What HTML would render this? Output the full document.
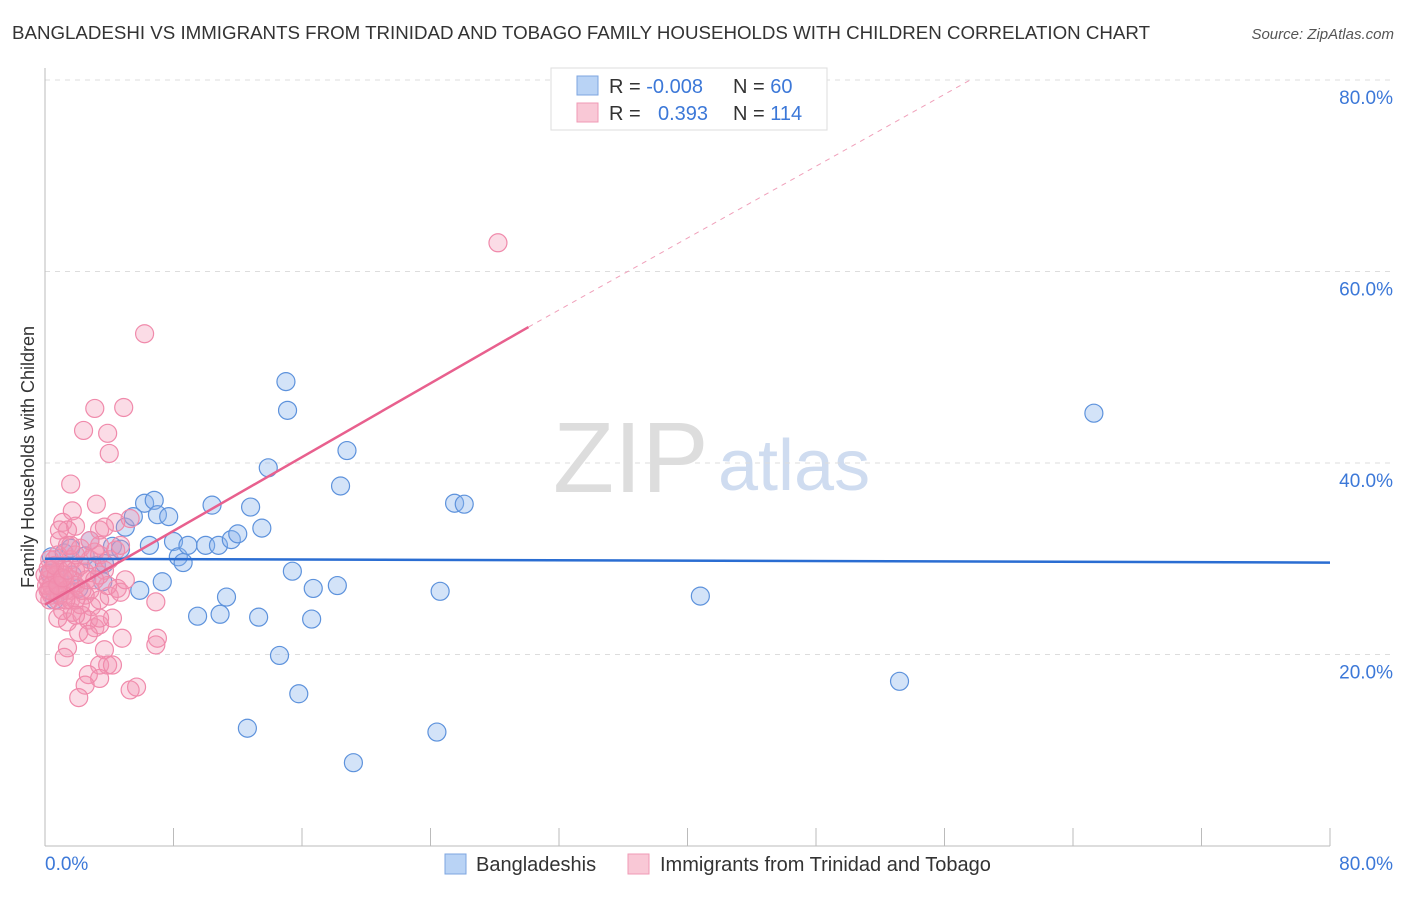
<!DOCTYPE html>
<html><head><meta charset="utf-8"><style>
body{margin:0;background:#fff;font-family:"Liberation Sans",sans-serif;}
svg text{font-family:"Liberation Sans",sans-serif;}
</style></head><body>
<svg id="chart" width="1406" height="892">
<text x="12" y="39" font-size="18" fill="#333" textLength="1138" lengthAdjust="spacingAndGlyphs">BANGLADESHI VS IMMIGRANTS FROM TRINIDAD AND TOBAGO FAMILY HOUSEHOLDS WITH CHILDREN CORRELATION CHART</text>
<text x="1394" y="39" font-size="15" fill="#555" text-anchor="end" font-style="italic">Source: ZipAtlas.com</text>
<text x="553" y="492" font-size="100" fill="#ddd" font-family="Liberation Serif">ZIP</text>
<text x="718" y="490" font-size="72" fill="#cfdcf0">atlas</text>
<g id="grid"></g><g id="axes"></g><g id="pts"></g><g id="trend"></g>
<text transform="translate(34,457) rotate(-90)" font-size="18" fill="#333" text-anchor="middle">Family Households with Children</text>
<g>
<rect x="551" y="68" width="276" height="62" fill="#fff" stroke="#ddd"/>
<rect x="577" y="76" width="21" height="19" fill="#b9d3f5" stroke="#7da6e0"/>
<rect x="577" y="103" width="21" height="19" fill="#f9c8d6" stroke="#f09ab5"/>
<text x="609" y="93" font-size="20" fill="#333">R = <tspan fill="#3c78d8">-0.008</tspan></text>
<text x="733" y="93" font-size="20" fill="#333">N = <tspan fill="#3c78d8"> 60</tspan></text>
<text x="609" y="120" font-size="20" fill="#333">R = </text>
<text x="658" y="120" font-size="20" fill="#3c78d8">0.393</text>
<text x="733" y="120" font-size="20" fill="#333">N = <tspan fill="#3c78d8">114</tspan></text>
</g>
<g>
<rect x="445" y="854" width="21" height="20" fill="#b9d3f5" stroke="#7da6e0"/>
<text x="476" y="871" font-size="20" fill="#333">Bangladeshis</text>
<rect x="628" y="854" width="21" height="20" fill="#f9c8d6" stroke="#f09ab5"/>
<text x="660" y="871" font-size="20" fill="#333">Immigrants from Trinidad and Tobago</text>
</g>
</svg>
<script>
const xTicks=[0,8,16,24,32,40,48,56,64,72,80];
const yTicks=[20,40,60,80];
const blueX=[0.4,0.8,1.2,1.6,2.1,2.5,2.8,3.2,3.6,3.7,4.2,4.7,5.0,5.5,5.9,6.2,6.5,6.8,7.0,7.7,8.0,8.3,8.6,8.9,7.3,9.5,10.0,10.4,10.8,10.9,11.3,11.6,12.0,12.8,13.3,13.5,13.9,14.6,15.0,15.1,15.4,15.8,16.6,16.7,18.2,18.4,18.8,19.2,24.4,24.6,25.5,26.1,40.8,53.2,65.3,12.6,0.3,0.9,0.6,1.7];
const blueY=[30.2,26.4,30.6,31.1,26.9,30.3,31.9,29.3,27.6,29.5,31.3,31.0,33.3,34.4,26.7,35.8,31.4,36.1,34.6,34.4,31.8,30.2,29.6,31.4,27.6,24.0,31.4,35.6,31.4,24.2,26.0,32.0,32.6,35.4,23.9,33.2,39.5,19.9,48.5,45.5,28.7,15.9,23.7,26.9,27.2,37.6,41.3,8.7,11.9,26.6,35.8,35.7,26.1,17.2,45.2,12.3,28.5,27.8,25.7,28.3];
const pinkX=[6.2,28.2,3.1,4.9,2.4,3.9,4.0,1.6,3.2,1.7,1.1,1.9,1.4,3.4,4.4,5.3,0.9,1.4,2.2,3.1,3.4,0.6,1.1,1.6,1.9,0.3,0.6,0.9,1.2,1.6,0.2,0.4,0.8,2.5,2.8,3.4,2.9,4.0,4.5,4.7,6.9,0.8,1.4,1.7,2.3,2.7,3.1,3.4,4.2,2.1,2.7,4.8,7.0,6.9,1.4,1.2,3.7,3.4,3.9,4.2,2.7,3.4,2.5,2.1,5.3,5.7,0.3,0.4,0.2,0.6,0.9,1.2,1.9,2.2,2.5,2.8,0.0,0.3,0.8,1.1,1.6,1.9,2.2,3.7,5.0,3.9,3.4,0.1,0.4,0.7,1.2,1.3,1.7,0.2,0.6,0.9,0.0,0.3,0.8,1.1,1.4,1.9,2.3,2.6,3.1,3.4,4.0,4.4,4.7,2.8,3.7,1.3,1.9,1.6,0.9,3.4];
const pinkY=[53.5,63.0,45.7,45.8,43.4,43.1,41.0,37.8,35.7,35.0,33.8,33.4,33.0,33.0,33.8,34.2,31.9,31.4,31.1,30.7,31.4,29.9,29.3,29.9,28.8,28.3,27.8,27.2,28.3,26.7,26.7,26.2,25.7,28.6,26.7,25.7,25.0,26.1,26.9,26.5,25.5,23.8,23.4,24.4,24.1,23.6,22.8,23.1,23.8,22.3,22.1,21.7,21.7,21.0,20.7,19.7,20.5,18.9,18.9,18.9,17.9,17.5,16.8,15.5,16.3,16.6,29.9,28.8,27.8,26.7,28.8,26.2,27.2,29.3,26.2,29.9,28.3,25.7,30.4,24.6,25.7,30.4,25.2,28.8,27.8,27.2,28.3,27.2,27.2,28.3,27.8,26.7,27.8,29.0,29.3,26.2,26.2,26.7,27.2,28.0,28.8,25.7,26.7,27.8,27.8,30.4,29.9,30.9,31.4,31.9,33.3,25.7,24.1,31.4,33.0,23.8];
const blueTrend=[[0,30.0],[80,29.6]];
const pinkTrendSolid=[[0,25.2],[30.1,54.2]];
const pinkTrendDash=[[30.1,54.2],[57.6,80]];
const NS='http://www.w3.org/2000/svg';
const X=v=>45+v/80*1285, Y=v=>846-v/20*191.5;
function mk(tag,attrs,parent){const e=document.createElementNS(NS,tag);for(const k in attrs)e.setAttribute(k,attrs[k]);document.getElementById(parent).appendChild(e);return e;}
yTicks.forEach(t=>{
 const l=mk('line',{x1:45,x2:1392,y1:Y(t),y2:Y(t),stroke:'#ddd','stroke-dasharray':'5,5'},'grid');
 
 
 const tx=mk('text',{x:1393,y:Y(t)+24,'font-size':19,fill:'#3c78d8','text-anchor':'end'},'grid');tx.textContent=t.toFixed(1)+'%';
 
 
});
const ax=mk('line',{x1:45,x2:45,y1:68,y2:846,stroke:'#bbb'},'axes');


const bx=mk('line',{x1:45,x2:1330,y1:846,y2:846,stroke:'#bbb'},'axes');


xTicks.forEach(t=>{
 const l=mk('line',{x1:X(t),x2:X(t),y1:828,y2:846,stroke:'#bbb'},'axes');
 
 
});
[[0,'start',45],[80,'end',1393]].forEach(([t,a,x])=>{
 const tx=mk('text',{x:x,y:870,'font-size':19,fill:'#3c78d8','text-anchor':a},'axes');tx.textContent=t.toFixed(1)+'%';
 
 
});
blueX.forEach((v,i)=>{
 const c=mk('circle',{cx:X(v),cy:Y(blueY[i]),r:9,fill:'rgba(140,182,236,0.38)',stroke:'#5d92dc','stroke-width':1.2},'pts');
 
 
});
pinkX.forEach((v,i)=>{
 const c=mk('circle',{cx:X(v),cy:Y(pinkY[i]),r:9,fill:'rgba(244,150,180,0.33)',stroke:'#f08aab','stroke-width':1.2},'pts');
 
 
});
const bt=mk('line',{x1:X(blueTrend[0][0]),y1:Y(blueTrend[0][1]),x2:X(blueTrend[1][0]),y2:Y(blueTrend[1][1]),stroke:'#2a6dd2','stroke-width':2.5},'trend');


const pt=mk('line',{x1:X(pinkTrendSolid[0][0]),y1:Y(pinkTrendSolid[0][1]),x2:X(pinkTrendSolid[1][0]),y2:Y(pinkTrendSolid[1][1]),stroke:'#e8608e','stroke-width':2.5},'trend');


const pd=mk('line',{x1:X(pinkTrendDash[0][0]),y1:Y(pinkTrendDash[0][1]),x2:X(pinkTrendDash[1][0]),y2:Y(pinkTrendDash[1][1]),stroke:'#f0a0ba','stroke-width':1,'stroke-dasharray':'5,5'},'trend');


</script>
</body></html>
